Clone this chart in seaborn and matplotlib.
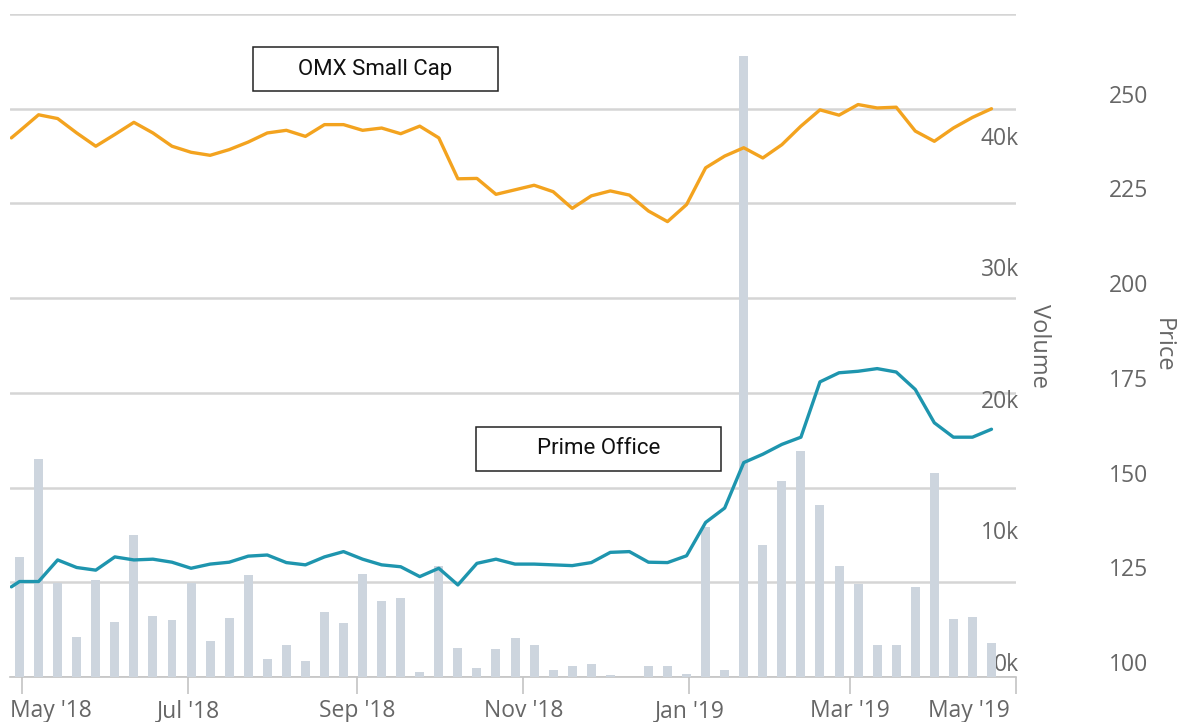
import numpy as np
import pandas as pd
import matplotlib
matplotlib.use("Agg")
import matplotlib.pyplot as plt
import matplotlib.dates as mdates
from matplotlib.ticker import FuncFormatter, FixedLocator
from matplotlib.transforms import ScaledTranslation
from matplotlib.patches import Rectangle
import seaborn as sns

# ---------------- data ----------------
first_week = "2018-04-30"
first_price_date = "2018-04-27"

omx_first = 242.3
omx_weekly = [244.1, 248.4, 247.4, 243.6, 240.1, 243.2, 246.4, 243.6, 240.1, 238.5,
              237.7, 239.2, 241.2, 243.6, 244.3, 242.7, 245.8, 245.8, 244.3, 244.9,
              243.4, 245.4, 242.3, 231.5, 231.6, 227.4, 228.6, 229.8, 228.1, 223.7,
              227.0, 228.3, 227.2, 223.0, 220.2, 224.7, 234.4, 237.5, 239.7, 237.0,
              240.5, 245.4, 249.7, 248.3, 251.1, 250.2, 250.4, 244.1, 241.4, 244.9,
              247.7, 250.0]

prime_first = 123.8
prime_weekly = [125.2, 125.2, 130.9, 128.9, 128.2, 131.7, 130.9, 131.1, 130.3, 128.7,
                129.8, 130.3, 131.9, 132.2, 130.2, 129.6, 131.7, 133.1, 131.1, 129.6,
                129.1, 126.5, 128.7, 124.3, 130.0, 131.1, 129.8, 129.8, 129.6, 129.4,
                130.2, 132.9, 133.1, 130.3, 130.2, 132.0, 140.8, 144.6, 156.6, 158.8,
                161.4, 163.3, 177.9, 180.3, 180.7, 181.4, 180.5, 175.9, 167.1, 163.3,
                163.3, 165.4]

volume = [9120, 16600, 7170, 3040, 7400, 4180, 10800, 4640, 4310, 7170,
          2740, 4480, 7730, 1340, 2410, 1220, 4940, 4100, 7860, 5780,
          6000, 380, 8410, 2230, 680, 2100, 2990, 2410, 560, 810,
          1020, 180, 0, 810, 810, 200, 11400, 500, 47200, 10000,
          14900, 17200, 13100, 8430, 7100, 2410, 2410, 6840, 15500, 4440,
          4560, 2580]

series_names = ["OMX Small Cap", "Prime Office"]
price_ticks = [100, 125, 150, 175, 200, 225, 250]
grid_ticks = [100, 125, 150, 175, 200, 225, 250, 275]
volume_ticks = [0, 10000, 20000, 30000, 40000]
x_start, x_end = "2018-04-26 12:00", "2019-05-01"

# ---------------- frames ----------------
weeks = pd.date_range(first_week, periods=len(volume), freq="7D")
price_dates = pd.DatetimeIndex([pd.Timestamp(first_price_date)]).append(weeks)
xnum_prices = mdates.date2num(price_dates.to_pydatetime())
xnum_weeks = mdates.date2num(weeks.to_pydatetime())

df_lines = pd.concat([
    pd.DataFrame({"x": xnum_prices, "price": [omx_first] + omx_weekly, "series": series_names[0]}),
    pd.DataFrame({"x": xnum_prices, "price": [prime_first] + prime_weekly, "series": series_names[1]}),
])
df_vol = pd.DataFrame({"x": xnum_weeks, "volume": volume})

# ---------------- style ----------------
sns.set_theme(style="white")
plt.rcParams["font.family"] = ["Open Sans", "DejaVu Sans"]
TXT = "#666666"
GRID = "#d5d5d5"
AXC = "#c4c4c4"
ORANGE = "#f3a31f"
TEAL = "#1e95ae"
BAR = "#cdd5de"

W, H = 1178, 722
fig = plt.figure(figsize=(W / 100, H / 100), dpi=100)
fig.patch.set_facecolor("white")
L, R, TOP, BOT = 10, 1016, 14, 677
rect = [L / W, 1 - BOT / H, (R - L) / W, (BOT - TOP) / H]

ax_grid = fig.add_axes(rect)
ax_vol = ax_grid.twinx()
ax_price = ax_grid.twinx()
for a in (ax_vol, ax_price):
    a.patch.set_visible(False)
for a in (ax_grid, ax_vol, ax_price):
    for s in a.spines.values():
        s.set_visible(False)
ax_grid.spines["bottom"].set_visible(True)
ax_grid.spines["bottom"].set_color(AXC)
ax_grid.spines["bottom"].set_linewidth(1.2)

xlim = (mdates.date2num(pd.Timestamp(x_start)), mdates.date2num(pd.Timestamp(x_end)))

# grid axis (price scale)
ax_grid.set_ylim(100, 275)
ax_grid.yaxis.set_major_locator(FixedLocator(grid_ticks))
ax_grid.yaxis.grid(True, color=GRID, linewidth=1.8)
ax_grid.tick_params(axis="y", left=False, right=False, labelleft=False, labelright=False)

# bars
ax_vol.bar(df_vol["x"], df_vol["volume"], width=3.3, color=BAR, linewidth=0, zorder=2)
ax_vol.set_ylim(0, 50380)
ax_vol.yaxis.set_major_locator(FixedLocator(volume_ticks))
ax_vol.yaxis.set_major_formatter(FuncFormatter(lambda v, p: f"{int(round(v / 1000))}k"))
ax_vol.tick_params(axis="y", right=False, left=False, labelright=True, labelleft=False,
                   pad=-4, labelsize=16.5, labelcolor=TXT)
for lab in ax_vol.get_yticklabels():
    lab.set_ha("right")
    lab.set_va("bottom")
ax_vol.set_ylabel("Volume", rotation=270, fontsize=17, color=TXT, ha="center", va="center")
ax_vol.yaxis.set_label_coords((1039 - L) / (R - L), 0.5)

# lines
sns.lineplot(data=df_lines, x="x", y="price", hue="series",
             palette={series_names[0]: ORANGE, series_names[1]: TEAL},
             linewidth=2.4, legend=False, ax=ax_price, sort=True)
ax_price.set_ylim(100, 275)
ax_price.yaxis.set_major_locator(FixedLocator(price_ticks))
ax_price.yaxis.set_major_formatter(FuncFormatter(lambda v, p: f"{int(v)}"))
ax_price.tick_params(axis="y", right=False, left=False, labelright=True, labelleft=False,
                     pad=61, labelsize=16.5, labelcolor=TXT)
for lab in ax_price.get_yticklabels():
    lab.set_va("bottom")
ax_price.set_xlabel("")
ax_price.set_ylabel("Price", rotation=270, fontsize=17, color=TXT, ha="center", va="center")
ax_price.yaxis.set_label_coords((1163 - L) / (R - L), 0.5)

# x axis
for a in (ax_grid, ax_vol, ax_price):
    a.set_xlim(*xlim)
ax_grid.xaxis.set_major_locator(mdates.MonthLocator(bymonth=[1, 3, 5, 7, 9, 11]))
ax_grid.xaxis.set_major_formatter(mdates.DateFormatter("%b '%y"))
ax_grid.tick_params(axis="x", bottom=True, direction="out", length=12, width=1.2,
                    color=AXC, pad=4, labelsize=16.5, labelcolor=TXT)
ax_price.tick_params(axis="x", bottom=False, labelbottom=False)
ax_vol.tick_params(axis="x", bottom=False, labelbottom=False)
ax_price.set_xlabel("")

xlabels = ax_grid.get_xticklabels()
if xlabels:
    xlabels[0].set_ha("left")
    xlabels[0].set_transform(xlabels[0].get_transform() +
                             ScaledTranslation(-0.12, 0, fig.dpi_scale_trans))
    xlabels[-1].set_ha("right")
    xlabels[-1].set_transform(xlabels[-1].get_transform() +
                              ScaledTranslation(-0.06, 0, fig.dpi_scale_trans))

# annotation boxes
def label_box(x0, y0, w, h, text):
    fig.add_artist(Rectangle((x0 / W, 1 - (y0 + h) / H), w / W, h / H,
                             transform=fig.transFigure, facecolor="white",
                             edgecolor="#222222", linewidth=1.1, zorder=10))
    fig.text((x0 + w / 2) / W, 1 - (y0 + h / 2) / H, text, ha="center", va="center",
             fontsize=16, color="#111111", family=["Roboto", "DejaVu Sans"], zorder=11)

label_box(253, 47, 245, 44, series_names[0])
label_box(476, 427, 245, 44, series_names[1])

fig.savefig("out.png", dpi=100, facecolor="white")
